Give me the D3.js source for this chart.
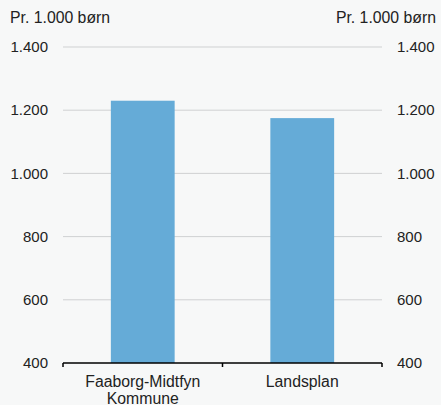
<!DOCTYPE html>
<html><head><meta charset="utf-8">
<script src="https://cdn.jsdelivr.net/npm/d3@7"></script>
<style>
body{margin:0;background:#f7f8f8;}
svg{display:block;font-family:"Liberation Sans",Arial,sans-serif;}
</style></head>
<body><svg id="c" width="441" height="405"></svg>
<script>
const categories = ["Faaborg-Midtfyn|Kommune", "Landsplan"];
const values = [1230, 1175];
const ticks = [400, 600, 800, 1000, 1200, 1400];
const tickLabels = ["400", "600", "800", "1.000", "1.200", "1.400"];
const unitLabel = "Pr. 1.000 børn";

(function(){
const svg = d3.select("#c");
const mL = 63, mR = 382, mT = 47, mB = 363;
const x = d3.scaleBand().domain(categories).range([mL, mR]).paddingInner(0.6).paddingOuter(0.3);
const y = d3.scaleLinear().domain([400, 1400]).range([mB, mT]);
const fs = 15, fsT = 15.8;

svg.append("g").selectAll("line").data(ticks.filter(t => t > 400)).join("line")
  .attr("x1", mL).attr("x2", mR)
  .attr("y1", d => y(d)).attr("y2", d => y(d))
  .attr("stroke", "#cfd1d2").attr("stroke-width", 1);

svg.append("g").selectAll("rect").data(values).join("rect")
  .attr("x", (d, i) => x(categories[i])).attr("width", x.bandwidth())
  .attr("y", d => y(d)).attr("height", d => y(400) - y(d))
  .attr("fill", "#65abd7");

svg.append("g").selectAll("text").data(ticks).join("text")
  .attr("x", 48).attr("y", d => y(d)).attr("dy", "0.35em")
  .attr("text-anchor", "end").attr("font-size", fs).attr("fill", "#222")
  .text((d, i) => tickLabels[i]);
svg.append("g").selectAll("text").data(ticks).join("text")
  .attr("x", 397).attr("y", d => y(d)).attr("dy", "0.35em")
  .attr("text-anchor", "start").attr("font-size", fs).attr("fill", "#222")
  .text((d, i) => tickLabels[i]);

svg.append("text").attr("x", 10).attr("y", 23).attr("font-size", fsT).attr("fill", "#222").text(unitLabel);
svg.append("text").attr("x", 436).attr("y", 23).attr("text-anchor", "end").attr("font-size", fsT).attr("fill", "#222").text(unitLabel);

const xa = svg.append("g");
xa.append("line").attr("x1", mL).attr("x2", mR).attr("y1", mB).attr("y2", mB).attr("stroke", "#000").attr("stroke-width", 1.5);
const bounds = [mL, mL + (mR-mL)/2, mR];
xa.selectAll(".tk").data(bounds).join("line").attr("class","tk")
  .attr("x1", d => d).attr("x2", d => d).attr("y1", mB).attr("y2", mB + 4)
  .attr("stroke", "#000").attr("stroke-width", 1.5);

xa.selectAll(".cl").data(categories).join("text").attr("class","cl")
  .attr("x", d => x(d) + x.bandwidth()/2).attr("y", mB + 24)
  .attr("text-anchor", "middle").attr("font-size", fsT).attr("fill", "#222")
  .each(function(d){
    const parts = d.split("|");
    const t = d3.select(this);
    parts.forEach((p, i) => t.append("tspan").attr("x", x(d) + x.bandwidth()/2).attr("dy", i ? "1.1em" : 0).text(p));
  });
})();
</script></body></html>
